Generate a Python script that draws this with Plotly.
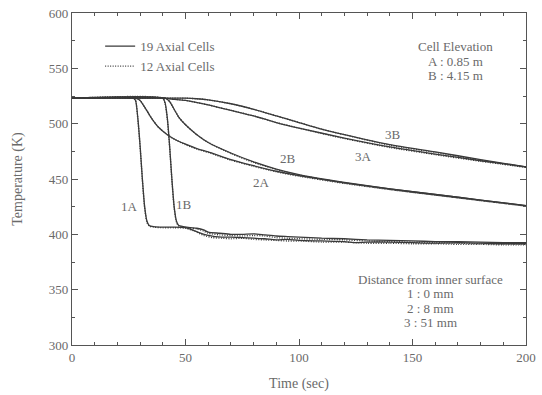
import plotly.graph_objects as go

# ---------------- data ----------------
# 19 axial cells (solid)
t_1A = [0, 27, 28, 29, 30, 31, 32, 33, 34, 36, 40, 45, 50, 53, 56, 60, 63, 66, 70, 75, 80, 85, 90, 95, 100, 110, 120, 125, 130, 140, 150, 160, 170, 180, 190, 200]
T_1A = [523, 523, 521, 505, 480, 450, 425, 412, 408, 407, 406.5, 406.5, 406, 404, 401.5, 399, 398, 397.5, 397.5, 397, 396.5, 396, 395, 395.5, 394.5, 394, 393.5, 392.5, 393, 393, 392.5, 392, 392.5, 392, 391.5, 391.5]
t_1B = [0, 40, 41, 42, 43, 44, 45, 46, 47, 49, 52, 55, 58, 60, 65, 70, 75, 80, 85, 90, 95, 100, 110, 120, 130, 140, 150, 160, 170, 180, 190, 200]
T_1B = [523, 523, 519, 505, 480, 450, 425, 412, 408, 407, 406, 405.5, 404, 402, 401, 400, 400, 400.5, 399.5, 398.5, 398, 397.5, 396.5, 396, 395, 394.5, 394, 393.5, 393.5, 393, 392.5, 392.5]
t_2A = [0, 28, 30, 32, 35, 38, 42, 46, 50, 55, 60, 70, 80, 90, 100, 120, 140, 160, 180, 200]
T_2A = [523, 523, 521, 515, 505, 497, 490, 485, 481.5, 477.5, 474.5, 467.5, 462, 457, 453, 446.5, 441, 436, 431, 426]
t_2B = [0, 41, 43, 45, 47, 50, 55, 60, 70, 80, 90, 100, 120, 140, 160, 180, 200]
T_2B = [523, 523, 520, 513, 506, 499, 490, 483, 473.5, 465.5, 459, 454, 447, 441, 436, 431, 426]
t_3A = [0, 40, 45, 50, 60, 70, 80, 90, 100, 120, 140, 160, 180, 200]
T_3A = [523, 523, 522, 521, 517, 512, 507, 501, 496, 487, 479, 472.5, 466.5, 461]
t_3B = [0, 50, 55, 60, 70, 80, 90, 100, 110, 120, 140, 160, 180, 200]
T_3B = [523, 523, 522.5, 521.5, 518, 513, 507, 501, 495, 490, 481, 474.5, 467.5, 461]

# 12 axial cells (dotted)
t_1A_12 = [0, 27, 28, 29, 30, 31, 32, 33, 34, 36, 40, 45, 50, 54, 58, 62, 66, 70, 75, 80, 85, 90, 95, 100, 110, 120, 130, 140, 150, 160, 170, 180, 190, 200]
T_1A_12 = [523, 523, 521, 504, 479, 449, 424, 411, 407.5, 406.5, 406, 406, 405.5, 403, 399, 397, 396.5, 396, 396.5, 395.5, 395, 394.5, 394, 394, 393, 393, 392, 392, 391.5, 391.5, 391, 391, 390.5, 390.5]
t_1B_12 = [0, 40, 41, 42, 43, 44, 45, 46, 47, 49, 52, 55, 58, 60, 65, 70, 75, 80, 85, 90, 95, 100, 110, 120, 130, 140, 150, 160, 170, 180, 190, 200]
T_1B_12 = [523, 523, 518, 504, 479, 449, 424, 411, 407.5, 406.5, 405.5, 405, 403, 401, 399.5, 399, 398.5, 399, 398.5, 397, 396.5, 396, 395.5, 395, 394, 393.5, 393, 392.5, 392, 391.5, 391.5, 391]
t_2A_12 = t_2A
T_2A_12 = [523, 523, 521, 515, 505, 497, 490, 485, 481, 477, 474, 467, 461.5, 456.5, 452.5, 446, 440.5, 435.5, 430.5, 425.5]
t_2B_12 = t_2B
T_2B_12 = [523, 523, 520, 513, 506, 499, 490, 483, 473, 465, 458.5, 453.5, 446.5, 440.5, 435.5, 430.5, 425.5]
t_3A_12 = t_3A
T_3A_12 = [523, 523, 522, 521, 517, 512, 507, 501, 496, 486.5, 478.5, 472, 466, 460.5]
t_3B_12 = t_3B
T_3B_12 = [523, 523, 522.5, 521.5, 518, 513, 507, 501, 495, 490, 480.5, 474, 467, 460.5]

curve_names = ["1A", "1B", "2A", "2B", "3A", "3B"]
solid_t = [t_1A, t_1B, t_2A, t_2B, t_3A, t_3B]
solid_T = [T_1A, T_1B, T_2A, T_2B, T_3A, T_3B]
dot_t = [t_1A_12, t_1B_12, t_2A_12, t_2B_12, t_3A_12, t_3B_12]
dot_T = [T_1A_12, T_1B_12, T_2A_12, T_2B_12, T_3A_12, T_3B_12]

label_x = [25.5, 49.5, 83.5, 95.3, 128.3, 141.5]
label_y = [425, 427, 446.5, 468.5, 470.5, 490]

legend_names = ["19 Axial Cells", "12 Axial Cells"]

elev_lines = ["Cell Elevation", "A : 0.85 m", "B : 4.15 m"]
dist_lines = ["Distance from inner surface", "1 : 0 mm", "2 : 8 mm", "3 : 51 mm"]

# ---------------- figure ----------------
FONT = "Liberation Serif"
LINE_C = "#3a3a3a"
TEXT_C = "#6a6a6a"

fig = go.Figure()
for i, name in enumerate(curve_names):
    fig.add_trace(go.Scatter(
        x=solid_t[i], y=solid_T[i], mode="lines",
        line=dict(color=LINE_C, width=1.3, shape="spline", smoothing=0.6),
        name=legend_names[0], legendgroup="s", showlegend=(i == 0)))
for i, name in enumerate(curve_names):
    fig.add_trace(go.Scatter(
        x=dot_t[i], y=dot_T[i], mode="lines",
        line=dict(color=LINE_C, width=1.4, dash="1px,1.5px", shape="spline", smoothing=0.6),
        name=legend_names[1], legendgroup="d", showlegend=(i == 0)))

for name, lx, ly in zip(curve_names, label_x, label_y):
    fig.add_annotation(x=lx, y=ly, text=name, showarrow=False,
                       font=dict(family=FONT, size=13, color=TEXT_C))

elev_y = [0.898, 0.855, 0.813]
for txt, yy in zip(elev_lines, elev_y):
    fig.add_annotation(xref="paper", yref="paper", x=0.845, y=yy, text=txt,
                       xanchor="center", yanchor="middle",
                       showarrow=False, font=dict(family=FONT, size=13, color=TEXT_C))
dist_y = [0.196, 0.154, 0.111, 0.069]
for txt, yy in zip(dist_lines, dist_y):
    fig.add_annotation(xref="paper", yref="paper", x=0.789, y=yy, text=txt,
                       xanchor="center", yanchor="middle",
                       showarrow=False, font=dict(family=FONT, size=13, color=TEXT_C))

axis_common = dict(
    showline=True, linecolor="#555", linewidth=1.2, mirror="ticks",
    ticks="inside", ticklen=6, tickwidth=1, tickcolor="#555",
    showgrid=False, zeroline=False, automargin=False,
    ticklabeloverflow="allow",
    tickfont=dict(family=FONT, size=13, color=TEXT_C),
)

fig.update_xaxes(range=[0, 200], dtick=50, tick0=0,
                 minor=dict(dtick=10, ticks="inside", ticklen=3, tickcolor="#555"),
                 title=dict(text="Time (sec)", font=dict(family=FONT, size=14, color=TEXT_C), standoff=14),
                 **axis_common)
fig.update_yaxes(range=[300, 600], dtick=50, tick0=300,
                 minor=dict(dtick=25, ticks="inside", ticklen=3, tickcolor="#555"),
                 title=dict(text="Temperature (K)", font=dict(family=FONT, size=14, color=TEXT_C), standoff=22),
                 **axis_common)

fig.update_layout(
    width=542, height=395,
    margin=dict(l=72, r=16, t=13, b=50),
    paper_bgcolor="white", plot_bgcolor="white",
    legend=dict(x=0.062, y=0.945, xanchor="left", yanchor="top",
                bgcolor="rgba(0,0,0,0)", tracegroupgap=0,
                font=dict(family=FONT, size=13, color=TEXT_C), itemwidth=30),
    showlegend=True,
)

fig.write_html("out.html", config={"displayModeBar": False},
               post_script="document.body.style.margin='0';document.body.style.overflow='hidden';")
